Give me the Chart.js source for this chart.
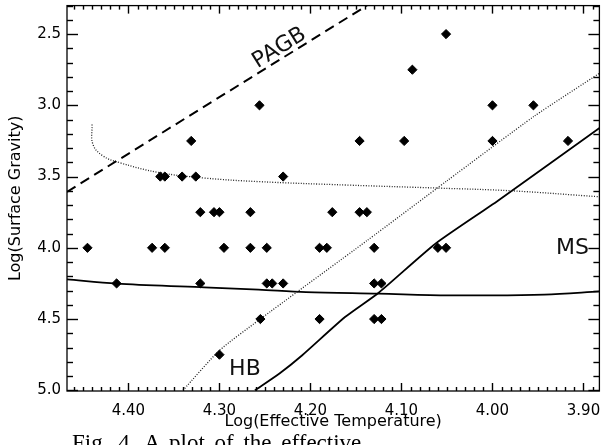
<!DOCTYPE html>
<html>
<head>
<meta charset="utf-8">
<script src="https://cdn.jsdelivr.net/npm/chart.js@4.4.0/dist/chart.umd.min.js"></script>
<style>
  html, body { margin: 0; padding: 0; background: #fff; overflow: hidden; }
  #wrap { position: relative; width: 605px; height: 445px; }
  #caption { position: absolute; left: 72px; top: 430px; font: 23px "Liberation Serif", serif; color: #000; white-space: nowrap; word-spacing: 4px; }
</style>
</head>
<body>
<div id="wrap">
  <canvas id="chart" width="605" height="445"></canvas>
  <div id="caption">Fig. 4. A plot of the effective</div>
</div>
<script>
// axis ticks
const xTickValues = [4.40, 4.30, 4.20, 4.10, 4.00, 3.90];
const yTickValues = [2.5, 3.0, 3.5, 4.0, 4.5, 5.0];
const xMinorStep = 0.01;
const yMinorStep = 0.1;

// observed stars: log Teff / log g
const starLogTeff = [
  4.051,
  4.088,
  4.256, 4.000, 3.955,
  4.331, 4.146, 4.097, 4.000, 3.917,
  4.365, 4.360, 4.341, 4.326, 4.230,
  4.321, 4.306, 4.300, 4.266, 4.176, 4.146, 4.138,
  4.445, 4.374, 4.360, 4.295, 4.266, 4.248, 4.190, 4.182, 4.130, 4.060, 4.051,
  4.413, 4.321, 4.248, 4.242, 4.230, 4.130, 4.122,
  4.255, 4.190, 4.130, 4.122,
  4.300
];
const starLogG = [
  2.50,
  2.75,
  3.00, 3.00, 3.00,
  3.25, 3.25, 3.25, 3.25, 3.25,
  3.50, 3.50, 3.50, 3.50, 3.50,
  3.75, 3.75, 3.75, 3.75, 3.75, 3.75, 3.75,
  4.00, 4.00, 4.00, 4.00, 4.00, 4.00, 4.00, 4.00, 4.00, 4.00, 4.00,
  4.25, 4.25, 4.25, 4.25, 4.25, 4.25, 4.25,
  4.50, 4.50, 4.50, 4.50,
  4.75
];

// post-AGB track (dashed)
const pagbTeff = [4.4675, 4.138];
const pagbLogG = [3.607, 2.300];

// upper dotted track
const dotTopTeff = [4.440, 4.439, 4.428, 4.410, 4.366, 4.315, 4.258, 4.158, 4.059, 3.979, 3.882];
const dotTopLogG = [3.134, 3.274, 3.355, 3.402, 3.472, 3.511, 3.535, 3.560, 3.581, 3.600, 3.642];

// diagonal dotted track
const dotDiagTeff = [4.340, 4.300, 4.257, 4.138, 4.050, 3.954, 3.882];
const dotDiagLogG = [5.000, 4.720, 4.509, 3.950, 3.530, 3.076, 2.773];

// horizontal branch (solid)
const hbTeff = [4.261, 4.234, 4.209, 4.162, 4.125, 4.063, 3.994, 3.882];
const hbLogG = [5.000, 4.882, 4.754, 4.486, 4.315, 3.973, 3.670, 3.157];

// main sequence (solid, nearly flat)
const msTeff = [4.4675, 4.413, 4.321, 4.257, 4.205, 4.125, 4.048, 4.001, 3.943, 3.882];
const msLogG = [4.222, 4.252, 4.276, 4.294, 4.311, 4.322, 4.334, 4.334, 4.329, 4.306];

const pts = (xs, ys) => xs.map((x, i) => ({ x, y: ys[i] }));

const tickFont = { family: 'DejaVu Sans', size: 15 };
const titleFont = { family: 'DejaVu Sans', size: 16 };

// curve names written on the plot
const curveLabels = [
  { text: 'PAGB', x: 4.234, y: 2.598, align: 'center', along: [pagbTeff, pagbLogG] },
  { text: 'MS', x: 3.894, y: 4.0, align: 'right' },
  { text: 'HB', x: 4.272, y: 4.852, align: 'center' }
];

// values between lo and hi on a fixed step
function stepValues(lo, hi, step) {
  const out = [];
  for (let k = Math.ceil(lo / step - 1e-6); k * step <= hi + 1e-9; k++) out.push(k * step);
  return out;
}

// box + inward major/minor ticks on all four sides
const frameTicks = {
  id: 'frameTicks',
  afterDraw(chart) {
    const ctx = chart.ctx;
    const a = chart.chartArea;
    const xs = chart.scales.x, ys = chart.scales.y;
    const xLen = Math.round((a.bottom - a.top) * 0.02);
    const yLen = Math.round((a.right - a.left) * 0.02);
    const isMajor = (v, list) => list.some(t => Math.abs(t - v) < 1e-6);
    ctx.save();
    ctx.fillStyle = '#000';
    stepValues(xs.min, xs.max, xMinorStep).forEach(v => {
      const px = Math.round(xs.getPixelForValue(v));
      const len = isMajor(v, xTickValues) ? xLen : Math.round(xLen / 2);
      ctx.fillRect(px - 0.2, a.bottom - len, 1.4, len);
      ctx.fillRect(px - 0.2, a.top, 1.4, len);
    });
    stepValues(ys.min, ys.max, yMinorStep).forEach(v => {
      const py = Math.round(ys.getPixelForValue(v));
      const len = isMajor(v, yTickValues) ? yLen : Math.round(yLen / 2);
      ctx.fillRect(a.left, py - 0.2, len, 1.4);
      ctx.fillRect(a.right - len, py - 0.2, len, 1.4);
    });
    ctx.strokeStyle = '#000';
    ctx.setLineDash([]);
    ctx.lineWidth = 1.3;
    ctx.strokeRect(a.left, a.top, a.right - a.left, a.bottom - a.top);

    ctx.fillStyle = '#111';
    ctx.font = '22px "DejaVu Sans"';
    ctx.textBaseline = 'middle';
    curveLabels.forEach(l => {
      const px = xs.getPixelForValue(l.x), py = ys.getPixelForValue(l.y);
      let ang = 0;
      if (l.along) {
        const [lx, ly] = l.along;
        const x0 = xs.getPixelForValue(lx[0]), y0 = ys.getPixelForValue(ly[0]);
        const x1 = xs.getPixelForValue(lx[1]), y1 = ys.getPixelForValue(ly[1]);
        ang = Math.atan2(y1 - y0, x1 - x0);
      }
      ctx.save();
      ctx.translate(px, py);
      ctx.rotate(ang);
      ctx.textAlign = l.align;
      ctx.fillText(l.text, 0, 0);
      ctx.restore();
    });
    ctx.restore();
  }
};

const lineStyle = {
  showLine: true,
  pointRadius: 0,
  pointHoverRadius: 0,
  borderColor: '#000',
  fill: false
};

new Chart(document.getElementById('chart'), {
  type: 'scatter',
  data: {
    datasets: [
      {
        label: 'stars',
        data: pts(starLogTeff, starLogG),
        pointStyle: 'rectRot',
        pointRadius: 4.6,
        backgroundColor: '#000',
        borderColor: '#000',
        borderWidth: 1,
        order: 0
      },
      { ...lineStyle, label: 'PAGB', data: pts(pagbTeff, pagbLogG), borderWidth: 2, borderDash: [10, 6], order: 1 },
      { ...lineStyle, label: 'dotted upper', data: pts(dotTopTeff, dotTopLogG), borderWidth: 1.3, borderDash: [1, 1.6], borderColor: '#222', tension: 0.4, order: 1 },
      { ...lineStyle, label: 'dotted diagonal', data: pts(dotDiagTeff, dotDiagLogG), borderWidth: 1.3, borderDash: [1, 1.6], borderColor: '#222', tension: 0.2, order: 1 },
      { ...lineStyle, label: 'HB', data: pts(hbTeff, hbLogG), borderWidth: 1.8, tension: 0.2, order: 1 },
      { ...lineStyle, label: 'MS', data: pts(msTeff, msLogG), borderWidth: 1.8, cubicInterpolationMode: 'monotone', order: 1 }
    ]
  },
  options: {
    responsive: false,
    animation: false,
    events: [],
    layout: { padding: { top: 4, right: 3, left: 0, bottom: 0 } },
    plugins: { legend: { display: false }, tooltip: { enabled: false } },
    scales: {
      x: {
        type: 'linear',
        reverse: true,
        min: 3.8825,
        max: 4.4675,
        afterBuildTicks: s => { s.ticks = xTickValues.map(v => ({ value: v })); },
        afterFit: s => { s.height = 54; s.paddingLeft = 0; s.paddingRight = 0; },
        grid: { display: false, drawTicks: false },
        border: { display: false },
        ticks: { font: tickFont, color: '#000', padding: 11, maxRotation: 0, autoSkip: false, callback: v => v.toFixed(2) },
        title: { display: true, text: 'Log(Effective Temperature)', font: titleFont, color: '#000', padding: { top: 0, bottom: 14 } }
      },
      y: {
        type: 'linear',
        reverse: true,
        min: 2.3,
        max: 5.005,
        afterBuildTicks: s => { s.ticks = yTickValues.map(v => ({ value: v })); },
        afterFit: s => { s.width = 67; s.paddingTop = 0; s.paddingBottom = 0; },
        grid: { display: false, drawTicks: false },
        border: { display: false },
        ticks: { font: tickFont, color: '#000', padding: 6, autoSkip: false, callback: v => v.toFixed(1) },
        title: { display: true, text: 'Log(Surface Gravity)', font: titleFont, color: '#000', padding: { top: 6, bottom: 0 } }
      }
    }
  },
  plugins: [frameTicks]
});
</script>
</body>
</html>
